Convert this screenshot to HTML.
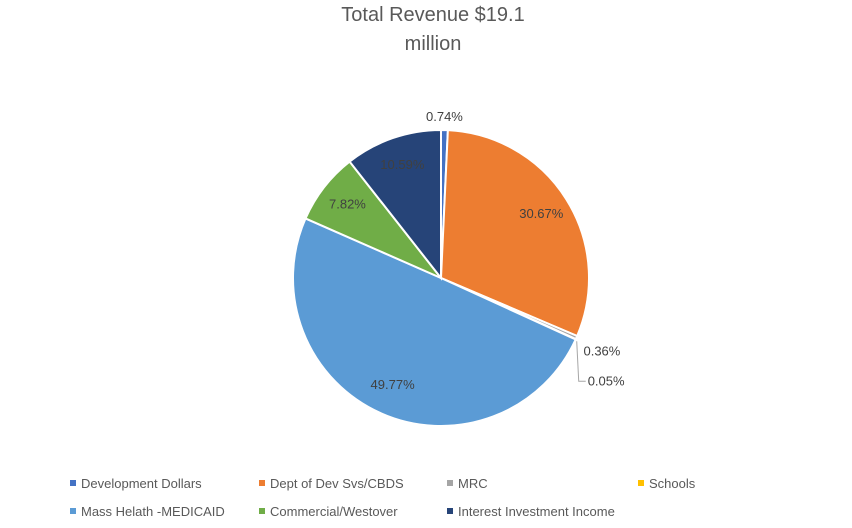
<!DOCTYPE html>
<html><head><meta charset="utf-8"><style>
body{margin:0;background:#fff;font-family:"Liberation Sans",Calibri,sans-serif;}
svg text{font-family:"Liberation Sans",sans-serif;}
</style></head><body>
<svg id="c" width="852" height="523">
<text x="433" y="21" text-anchor="middle" font-size="20" fill="#595959">Total Revenue $19.1</text>
<text x="433" y="50" text-anchor="middle" font-size="20" fill="#595959">million</text>
<g id="slices"></g><g id="labels"></g><g id="legend"></g>
</svg>
<script>
const categories=["Development Dollars","Dept of Dev Svs/CBDS","MRC","Schools","Mass Helath -MEDICAID","Commercial/Westover","Interest Investment Income"];
const values=[0.74,30.67,0.36,0.05,49.77,7.82,10.59];
const colors=["#4472C4","#ED7D31","#A5A5A5","#FFC000","#5B9BD5","#70AD47","#264478"];
const NS="http://www.w3.org/2000/svg";
const cx=441,cy=278,r=148;
const total=values.reduce((a,b)=>a+b,0);
const sg=document.getElementById('slices'),lg=document.getElementById('labels'),leg=document.getElementById('legend');
function pt(a,rr){return [cx+rr*Math.sin(a),cy-rr*Math.cos(a)];}
let a0=0;
values.forEach((v,i)=>{
  const a1=a0+v/total*2*Math.PI;
  const p0=pt(a0,r),p1=pt(a1,r);
  const p=document.createElementNS(NS,'path');
  p.setAttribute('d',`M${cx},${cy}L${p0[0]},${p0[1]}A${r},${r} 0 ${a1-a0>Math.PI?1:0} 1 ${p1[0]},${p1[1]}Z`);
  p.setAttribute('fill',colors[i]);p.setAttribute('stroke','#fff');p.setAttribute('stroke-width','2');
  
  
  sg.appendChild(p);
  const mid=(a0+a1)/2;
  const t=document.createElementNS(NS,'text');
  let x,y,anchor='middle';
  if(v<1){
    if(i===0){const q=pt(mid,r);x=q[0];y=q[1]-9;}
    else if(i===2){const q=pt(mid,r);x=q[0]+7;y=q[1]+18;anchor='start';}
    else{const q=pt(mid,r);x=q[0]+12;y=q[1]+46;anchor='start';
      const l=document.createElementNS(NS,'polyline');
      l.setAttribute('points',`${q[0]+1},${q[1]+2} ${q[0]+3},${y-4} ${x-2},${y-4}`);
      l.setAttribute('fill','none');l.setAttribute('stroke','#A6A6A6');
      
      
      lg.appendChild(l);}
  } else {const q=pt(mid,r*0.8);x=q[0];y=q[1]+3;}
  t.setAttribute('x',x);t.setAttribute('y',y);t.setAttribute('text-anchor',anchor);
  t.setAttribute('font-size','13');t.setAttribute('fill','#404040');
  t.textContent=v.toFixed(2)+'%';
  
  
  lg.appendChild(t);
  a0=a1;
});
const lx=[70,259,447,638],ly=[488,516];
categories.forEach((c,i)=>{
  const x=lx[i%4],y=ly[Math.floor(i/4)];
  const g=document.createElementNS(NS,'g');
  
  
  const s=document.createElementNS(NS,'rect');
  s.setAttribute('x',x);s.setAttribute('y',y-8);s.setAttribute('width',6);s.setAttribute('height',6);s.setAttribute('fill',colors[i]);
  const t=document.createElementNS(NS,'text');
  t.setAttribute('x',x+11);t.setAttribute('y',y);t.setAttribute('font-size','13');t.setAttribute('fill','#595959');
  t.textContent=c;
  g.appendChild(s);g.appendChild(t);leg.appendChild(g);
});
</script>
</body></html>
